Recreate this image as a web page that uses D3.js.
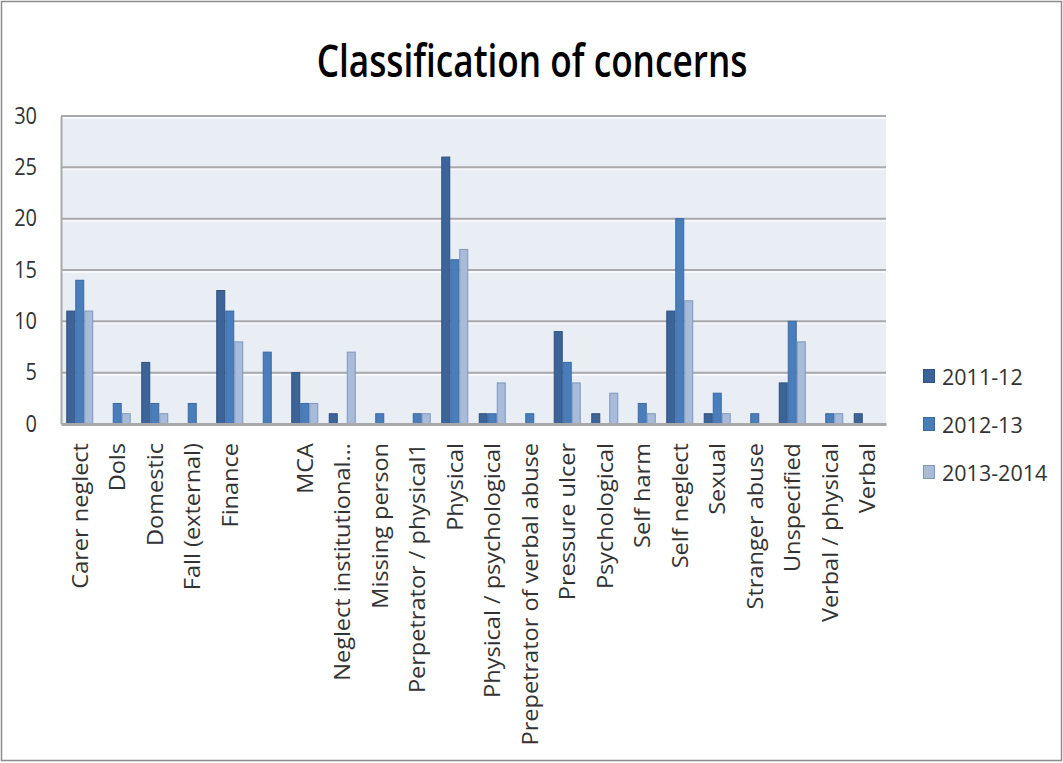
<!DOCTYPE html>
<html>
<head>
<meta charset="utf-8">
<script src="https://cdn.jsdelivr.net/npm/d3@7"></script>
<style>
  html, body { margin: 0; padding: 0; background: #ffffff; }
  svg { display: block; }
  text { font-family: "Open Sans", "Liberation Sans", sans-serif; }
</style>
</head>
<body>
<svg id="chart" width="1063" height="763"></svg>
<script>
// Concern categories (one slot in the source list has no name)
const categories = [
  "Carer neglect", "Dols", "Domestic", "Fall (external)", "Finance", "",
  "MCA", "Neglect institutional...", "Missing person", "Perpetrator / physical1",
  "Physical", "Physical / psychological", "Prepetrator of verbal abuse",
  "Pressure ulcer", "Psychological", "Self harm", "Self neglect", "Sexual",
  "Stranger abuse", "Unspecified", "Verbal / physical", "Verbal"
];

const seriesNames = ["2011-12", "2012-13", "2013-2014"];

const values2011 = [11, 0, 6, 0, 13, 0, 5, 1, 0, 0, 26, 1, 0, 9, 1, 0, 11, 1, 0, 4, 0, 1];
const values2012 = [14, 2, 2, 2, 11, 7, 2, 0, 1, 1, 16, 1, 1, 6, 0, 2, 20, 3, 1, 10, 1, 0];
const values2013 = [11, 1, 1, 0, 8, 0, 2, 7, 0, 1, 17, 4, 0, 4, 3, 1, 12, 1, 0, 8, 1, 0];

const yTicks = [0, 5, 10, 15, 20, 25, 30];

const series = [values2011, values2012, values2013];
const fills = ["#3d6499", "#4a7ebb", "#a8bbd9"];
const strokes = ["#2f5080", "#3a6aa6", "#7d97c0"];

const svg = d3.select("#chart");

// Outer chart frame
svg.append("rect")
  .attr("x", 1.5).attr("y", 1.5)
  .attr("width", 1060).attr("height", 759)
  .attr("fill", "#ffffff").attr("stroke", "#8c8c8c").attr("stroke-width", 1.5);

// Title (tall, narrow lettering)
svg.append("text")
  .attr("text-anchor", "middle")
  .attr("font-size", 32)
  .attr("font-weight", 600)
  .attr("fill", "#000000")
  .attr("transform", "translate(532,77) scale(1.1,1.42)")
  .text("Classification of concerns");

const plot = { left: 61, right: 886, top: 116, bottom: 424 };

const x = d3.scaleBand()
  .domain(d3.range(categories.length))
  .range([plot.left, plot.right])
  .paddingInner(0.28)
  .paddingOuter(0.14);

const xs = d3.scaleBand()
  .domain(d3.range(series.length))
  .range([0, x.bandwidth()]);

const y = d3.scaleLinear()
  .domain([0, 30])
  .range([plot.bottom, plot.top]);

// Plot area background
svg.append("rect")
  .attr("x", plot.left).attr("y", plot.top)
  .attr("width", plot.right - plot.left)
  .attr("height", plot.bottom - plot.top)
  .attr("fill", "#e9edf4");

// Gridlines with a soft white highlight under each
const grid = svg.append("g");
grid.selectAll("line.hl")
  .data(yTicks.filter(t => t > 0))
  .join("line")
  .attr("class", "hl")
  .attr("x1", plot.left).attr("x2", plot.right)
  .attr("y1", d => y(d) + 2).attr("y2", d => y(d) + 2)
  .attr("stroke", "#f7f9fc").attr("stroke-width", 2);
grid.selectAll("line.gl")
  .data(yTicks.filter(t => t > 0))
  .join("line")
  .attr("class", "gl")
  .attr("x1", plot.left).attr("x2", plot.right)
  .attr("y1", d => y(d)).attr("y2", d => y(d))
  .attr("stroke", "#a9a9ab").attr("stroke-width", 2);

// Bars
const groups = svg.append("g")
  .selectAll("g")
  .data(categories.map((c, i) => i))
  .join("g")
  .attr("transform", i => `translate(${x(i)},0)`);

groups.selectAll("rect")
  .data(i => series.map((s, k) => ({ k, v: s[i] })).filter(d => d.v > 0))
  .join("rect")
  .attr("x", d => xs(d.k) + 0.5)
  .attr("y", d => y(d.v))
  .attr("width", xs.bandwidth() - 1)
  .attr("height", d => y(0) - y(d.v))
  .attr("fill", d => fills[d.k])
  .attr("stroke", d => strokes[d.k])
  .attr("stroke-width", 1);

// Axes
const yAxis = d3.axisLeft(y).tickValues(yTicks).tickSize(0).tickPadding(24);
const gy = svg.append("g")
  .attr("transform", `translate(${plot.left},0)`)
  .call(yAxis);
gy.select(".domain").attr("stroke", "#a9a9ab").attr("stroke-width", 2);
gy.selectAll("text")
  .attr("font-size", 20)
  .attr("fill", "#333333")
  .attr("font-family", "\"Open Sans\", sans-serif")
  .attr("dy", "0.3em")
  .attr("transform", "scale(1,1.2)");

const xAxis = d3.axisBottom(x).tickFormat(i => categories[i]).tickSize(0).tickPadding(0);
const gx = svg.append("g")
  .attr("transform", `translate(0,${plot.bottom})`)
  .call(xAxis);
gx.select(".domain").attr("stroke", "#a9a9ab").attr("stroke-width", 3);
gx.selectAll("text")
  .attr("font-size", 22)
  .attr("fill", "#333333")
  .attr("font-family", "\"Open Sans\", sans-serif")
  .attr("text-anchor", "end")
  .attr("dy", null)
  .attr("transform", "translate(8,19) rotate(-90) scale(1.07,1)")
  .attr("x", 0).attr("y", 0);

// Legend
const legend = svg.append("g")
  .selectAll("g")
  .data(seriesNames)
  .join("g")
  .attr("transform", (d, i) => `translate(923,${369 + i * 48})`);
legend.append("rect")
  .attr("x", 0.5).attr("y", 0.5)
  .attr("width", 11).attr("height", 13)
  .attr("fill", (d, i) => fills[i])
  .attr("stroke", (d, i) => strokes[i]);
legend.append("text")
  .attr("x", 19).attr("y", 16)
  .attr("font-size", 21.5)
  .attr("fill", "#333333")
  .text(d => d);
</script>
</body>
</html>
